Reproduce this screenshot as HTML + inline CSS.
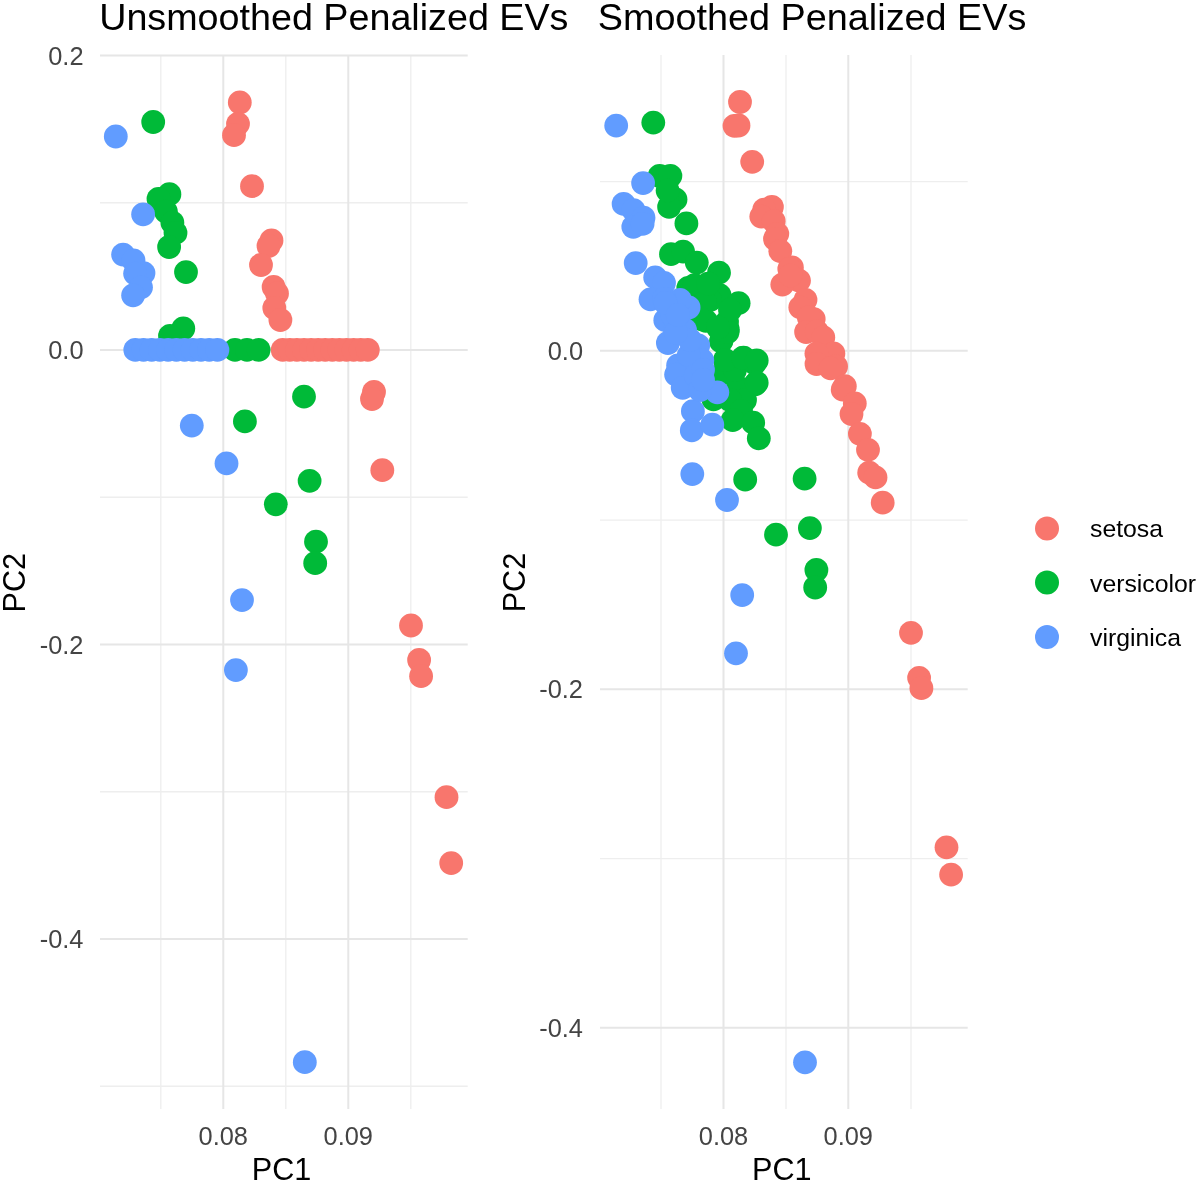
<!DOCTYPE html>
<html><head><meta charset="utf-8"><title>Penalized EVs</title>
<style>
html,body{margin:0;padding:0;background:#fff;}
body{width:1200px;height:1183px;overflow:hidden;font-family:"Liberation Sans",sans-serif;}
svg{display:block;filter:blur(0.45px);}
</style></head><body>
<svg width="1200" height="1183" viewBox="0 0 1200 1183" font-family="Liberation Sans, sans-serif"><rect width="1200" height="1183" fill="#fff"/><line x1="100" y1="202.75" x2="467.7" y2="202.75" stroke="#EEEEEE" stroke-width="1.3"/><line x1="100" y1="497.25" x2="467.7" y2="497.25" stroke="#EEEEEE" stroke-width="1.3"/><line x1="100" y1="791.75" x2="467.7" y2="791.75" stroke="#EEEEEE" stroke-width="1.3"/><line x1="100" y1="1086.25" x2="467.7" y2="1086.25" stroke="#EEEEEE" stroke-width="1.3"/><line x1="160.8" y1="55" x2="160.8" y2="1109" stroke="#EEEEEE" stroke-width="1.3"/><line x1="285.8" y1="55" x2="285.8" y2="1109" stroke="#EEEEEE" stroke-width="1.3"/><line x1="410.8" y1="55" x2="410.8" y2="1109" stroke="#EEEEEE" stroke-width="1.3"/><line x1="100" y1="55.5" x2="467.7" y2="55.5" stroke="#E6E6E6" stroke-width="2"/><line x1="100" y1="350" x2="467.7" y2="350" stroke="#E6E6E6" stroke-width="2"/><line x1="100" y1="644.5" x2="467.7" y2="644.5" stroke="#E6E6E6" stroke-width="2"/><line x1="100" y1="939" x2="467.7" y2="939" stroke="#E6E6E6" stroke-width="2"/><line x1="223.3" y1="55" x2="223.3" y2="1109" stroke="#E6E6E6" stroke-width="2"/><line x1="348.3" y1="55" x2="348.3" y2="1109" stroke="#E6E6E6" stroke-width="2"/><line x1="600" y1="181.6" x2="967.7" y2="181.6" stroke="#EEEEEE" stroke-width="1.3"/><line x1="600" y1="520.1" x2="967.7" y2="520.1" stroke="#EEEEEE" stroke-width="1.3"/><line x1="600" y1="858.6" x2="967.7" y2="858.6" stroke="#EEEEEE" stroke-width="1.3"/><line x1="661" y1="55" x2="661" y2="1109" stroke="#EEEEEE" stroke-width="1.3"/><line x1="786" y1="55" x2="786" y2="1109" stroke="#EEEEEE" stroke-width="1.3"/><line x1="911" y1="55" x2="911" y2="1109" stroke="#EEEEEE" stroke-width="1.3"/><line x1="600" y1="350.8" x2="967.7" y2="350.8" stroke="#E6E6E6" stroke-width="2"/><line x1="600" y1="689.3" x2="967.7" y2="689.3" stroke="#E6E6E6" stroke-width="2"/><line x1="600" y1="1027.8" x2="967.7" y2="1027.8" stroke="#E6E6E6" stroke-width="2"/><line x1="723.5" y1="55" x2="723.5" y2="1109" stroke="#E6E6E6" stroke-width="2"/><line x1="848.3" y1="55" x2="848.3" y2="1109" stroke="#E6E6E6" stroke-width="2"/>
<circle cx="239.8" cy="102.5" r="11.9" fill="#F8766D"/><circle cx="238.0" cy="123.8" r="11.9" fill="#F8766D"/><circle cx="234.0" cy="135.2" r="11.9" fill="#F8766D"/><circle cx="252.0" cy="186.2" r="11.9" fill="#F8766D"/><circle cx="271.5" cy="240.5" r="11.9" fill="#F8766D"/><circle cx="268.5" cy="246.0" r="11.9" fill="#F8766D"/><circle cx="261.0" cy="265.0" r="11.9" fill="#F8766D"/><circle cx="273.6" cy="287.0" r="11.9" fill="#F8766D"/><circle cx="277.0" cy="293.5" r="11.9" fill="#F8766D"/><circle cx="274.3" cy="308.0" r="11.9" fill="#F8766D"/><circle cx="280.4" cy="320.0" r="11.9" fill="#F8766D"/><circle cx="374.0" cy="392.0" r="11.9" fill="#F8766D"/><circle cx="372.0" cy="399.0" r="11.9" fill="#F8766D"/><circle cx="382.3" cy="470.2" r="11.9" fill="#F8766D"/><circle cx="411.0" cy="625.5" r="11.9" fill="#F8766D"/><circle cx="419.1" cy="660.0" r="11.9" fill="#F8766D"/><circle cx="421.1" cy="676.2" r="11.9" fill="#F8766D"/><circle cx="446.5" cy="797.2" r="11.9" fill="#F8766D"/><circle cx="451.2" cy="863.1" r="11.9" fill="#F8766D"/>
<circle cx="282.7" cy="349.9" r="11.9" fill="#F8766D"/><circle cx="289.8" cy="349.9" r="11.9" fill="#F8766D"/><circle cx="296.9" cy="349.9" r="11.9" fill="#F8766D"/><circle cx="304.0" cy="349.9" r="11.9" fill="#F8766D"/><circle cx="311.1" cy="349.9" r="11.9" fill="#F8766D"/><circle cx="318.2" cy="349.9" r="11.9" fill="#F8766D"/><circle cx="325.2" cy="349.9" r="11.9" fill="#F8766D"/><circle cx="332.3" cy="349.9" r="11.9" fill="#F8766D"/><circle cx="339.4" cy="349.9" r="11.9" fill="#F8766D"/><circle cx="346.5" cy="349.9" r="11.9" fill="#F8766D"/><circle cx="353.6" cy="349.9" r="11.9" fill="#F8766D"/><circle cx="360.7" cy="349.9" r="11.9" fill="#F8766D"/><circle cx="367.8" cy="349.9" r="11.9" fill="#F8766D"/>
<circle cx="153.2" cy="122.0" r="11.9" fill="#00BA38"/><circle cx="169.4" cy="194.2" r="11.9" fill="#00BA38"/><circle cx="158.5" cy="199.0" r="11.9" fill="#00BA38"/><circle cx="165.9" cy="211.6" r="11.9" fill="#00BA38"/><circle cx="172.4" cy="222.7" r="11.9" fill="#00BA38"/><circle cx="175.5" cy="232.9" r="11.9" fill="#00BA38"/><circle cx="169.1" cy="247.0" r="11.9" fill="#00BA38"/><circle cx="186.0" cy="272.1" r="11.9" fill="#00BA38"/><circle cx="183.3" cy="328.5" r="11.9" fill="#00BA38"/><circle cx="170.0" cy="336.0" r="11.9" fill="#00BA38"/><circle cx="304.0" cy="396.6" r="11.9" fill="#00BA38"/><circle cx="244.9" cy="421.4" r="11.9" fill="#00BA38"/><circle cx="309.6" cy="480.8" r="11.9" fill="#00BA38"/><circle cx="275.8" cy="504.3" r="11.9" fill="#00BA38"/><circle cx="316.0" cy="541.7" r="11.9" fill="#00BA38"/><circle cx="315.2" cy="563.2" r="11.9" fill="#00BA38"/>
<circle cx="235.0" cy="349.9" r="11.9" fill="#00BA38"/><circle cx="247.0" cy="349.9" r="11.9" fill="#00BA38"/><circle cx="258.6" cy="349.9" r="11.9" fill="#00BA38"/>
<circle cx="115.8" cy="136.5" r="11.9" fill="#619CFF"/><circle cx="143.1" cy="214.3" r="11.9" fill="#619CFF"/><circle cx="123.1" cy="254.6" r="11.9" fill="#619CFF"/><circle cx="133.5" cy="260.4" r="11.9" fill="#619CFF"/><circle cx="143.5" cy="273.1" r="11.9" fill="#619CFF"/><circle cx="135.1" cy="273.6" r="11.9" fill="#619CFF"/><circle cx="141.0" cy="287.3" r="11.9" fill="#619CFF"/><circle cx="133.1" cy="295.3" r="11.9" fill="#619CFF"/><circle cx="191.8" cy="425.6" r="11.9" fill="#619CFF"/><circle cx="226.5" cy="463.4" r="11.9" fill="#619CFF"/><circle cx="242.0" cy="600.1" r="11.9" fill="#619CFF"/><circle cx="235.9" cy="670.1" r="11.9" fill="#619CFF"/><circle cx="304.8" cy="1062.2" r="11.9" fill="#619CFF"/>
<circle cx="135.3" cy="349.9" r="11.9" fill="#619CFF"/><circle cx="143.5" cy="349.9" r="11.9" fill="#619CFF"/><circle cx="151.7" cy="349.9" r="11.9" fill="#619CFF"/><circle cx="159.9" cy="349.9" r="11.9" fill="#619CFF"/><circle cx="168.1" cy="349.9" r="11.9" fill="#619CFF"/><circle cx="176.4" cy="349.9" r="11.9" fill="#619CFF"/><circle cx="184.6" cy="349.9" r="11.9" fill="#619CFF"/><circle cx="192.8" cy="349.9" r="11.9" fill="#619CFF"/><circle cx="201.0" cy="349.9" r="11.9" fill="#619CFF"/><circle cx="209.2" cy="349.9" r="11.9" fill="#619CFF"/><circle cx="217.4" cy="349.9" r="11.9" fill="#619CFF"/>
<circle cx="740.0" cy="102.0" r="11.9" fill="#F8766D"/><circle cx="734.5" cy="125.8" r="11.9" fill="#F8766D"/><circle cx="738.5" cy="125.5" r="11.9" fill="#F8766D"/><circle cx="752.2" cy="161.8" r="11.9" fill="#F8766D"/><circle cx="771.9" cy="207.0" r="11.9" fill="#F8766D"/><circle cx="764.2" cy="209.6" r="11.9" fill="#F8766D"/><circle cx="761.3" cy="216.6" r="11.9" fill="#F8766D"/><circle cx="773.7" cy="221.2" r="11.9" fill="#F8766D"/><circle cx="777.3" cy="233.8" r="11.9" fill="#F8766D"/><circle cx="775.0" cy="239.0" r="11.9" fill="#F8766D"/><circle cx="780.3" cy="251.2" r="11.9" fill="#F8766D"/><circle cx="791.9" cy="267.4" r="11.9" fill="#F8766D"/><circle cx="789.3" cy="269.0" r="11.9" fill="#F8766D"/><circle cx="799.0" cy="280.6" r="11.9" fill="#F8766D"/><circle cx="782.3" cy="284.6" r="11.9" fill="#F8766D"/><circle cx="790.4" cy="275.5" r="11.9" fill="#F8766D"/><circle cx="805.5" cy="299.8" r="11.9" fill="#F8766D"/><circle cx="800.3" cy="307.3" r="11.9" fill="#F8766D"/><circle cx="813.7" cy="319.1" r="11.9" fill="#F8766D"/><circle cx="808.7" cy="317.1" r="11.9" fill="#F8766D"/><circle cx="806.1" cy="332.0" r="11.9" fill="#F8766D"/><circle cx="816.8" cy="331.3" r="11.9" fill="#F8766D"/><circle cx="823.3" cy="337.4" r="11.9" fill="#F8766D"/><circle cx="833.4" cy="353.5" r="11.9" fill="#F8766D"/><circle cx="816.4" cy="353.6" r="11.9" fill="#F8766D"/><circle cx="816.5" cy="364.0" r="11.9" fill="#F8766D"/><circle cx="836.1" cy="366.4" r="11.9" fill="#F8766D"/><circle cx="830.6" cy="368.3" r="11.9" fill="#F8766D"/><circle cx="844.8" cy="386.2" r="11.9" fill="#F8766D"/><circle cx="842.7" cy="389.7" r="11.9" fill="#F8766D"/><circle cx="854.8" cy="403.4" r="11.9" fill="#F8766D"/><circle cx="851.5" cy="414.1" r="11.9" fill="#F8766D"/><circle cx="859.9" cy="433.8" r="11.9" fill="#F8766D"/><circle cx="868.0" cy="449.8" r="11.9" fill="#F8766D"/><circle cx="869.2" cy="472.7" r="11.9" fill="#F8766D"/><circle cx="875.5" cy="477.4" r="11.9" fill="#F8766D"/><circle cx="882.7" cy="502.7" r="11.9" fill="#F8766D"/><circle cx="911.0" cy="632.8" r="11.9" fill="#F8766D"/><circle cx="919.1" cy="677.8" r="11.9" fill="#F8766D"/><circle cx="921.4" cy="688.2" r="11.9" fill="#F8766D"/><circle cx="946.5" cy="847.3" r="11.9" fill="#F8766D"/><circle cx="951.1" cy="874.7" r="11.9" fill="#F8766D"/>
<circle cx="653.3" cy="122.6" r="11.9" fill="#00BA38"/><circle cx="659.6" cy="176.0" r="11.9" fill="#00BA38"/><circle cx="670.4" cy="175.8" r="11.9" fill="#00BA38"/><circle cx="675.5" cy="199.4" r="11.9" fill="#00BA38"/><circle cx="669.1" cy="206.9" r="11.9" fill="#00BA38"/><circle cx="686.4" cy="223.4" r="11.9" fill="#00BA38"/><circle cx="671.0" cy="254.2" r="11.9" fill="#00BA38"/><circle cx="683.1" cy="251.6" r="11.9" fill="#00BA38"/><circle cx="696.8" cy="262.6" r="11.9" fill="#00BA38"/><circle cx="719.0" cy="272.7" r="11.9" fill="#00BA38"/><circle cx="688.3" cy="288.0" r="11.9" fill="#00BA38"/><circle cx="719.5" cy="295.2" r="11.9" fill="#00BA38"/><circle cx="738.6" cy="303.2" r="11.9" fill="#00BA38"/><circle cx="698.7" cy="311.0" r="11.9" fill="#00BA38"/><circle cx="727.0" cy="322.0" r="11.9" fill="#00BA38"/><circle cx="705.8" cy="320.8" r="11.9" fill="#00BA38"/><circle cx="727.8" cy="329.4" r="11.9" fill="#00BA38"/><circle cx="721.0" cy="341.4" r="11.9" fill="#00BA38"/><circle cx="721.7" cy="340.0" r="11.9" fill="#00BA38"/><circle cx="727.6" cy="332.0" r="11.9" fill="#00BA38"/><circle cx="710.0" cy="300.0" r="11.9" fill="#00BA38"/><circle cx="730.0" cy="310.0" r="11.9" fill="#00BA38"/><circle cx="667.6" cy="190.6" r="11.9" fill="#00BA38"/><circle cx="694.7" cy="285.2" r="11.9" fill="#00BA38"/><circle cx="704.8" cy="302.1" r="11.9" fill="#00BA38"/><circle cx="701.0" cy="319.0" r="11.9" fill="#00BA38"/><circle cx="718.0" cy="327.5" r="11.9" fill="#00BA38"/><circle cx="723.5" cy="373.0" r="11.9" fill="#00BA38"/><circle cx="708.2" cy="283.6" r="11.9" fill="#00BA38"/><circle cx="743.5" cy="357.6" r="11.9" fill="#00BA38"/><circle cx="754.7" cy="363.3" r="11.9" fill="#00BA38"/><circle cx="755.2" cy="384.3" r="11.9" fill="#00BA38"/><circle cx="737.5" cy="389.2" r="11.9" fill="#00BA38"/><circle cx="740.0" cy="388.3" r="11.9" fill="#00BA38"/><circle cx="735.0" cy="370.0" r="11.9" fill="#00BA38"/><circle cx="745.0" cy="400.0" r="11.9" fill="#00BA38"/><circle cx="730.0" cy="400.0" r="11.9" fill="#00BA38"/><circle cx="725.0" cy="360.0" r="11.9" fill="#00BA38"/><circle cx="713.5" cy="399.4" r="11.9" fill="#00BA38"/><circle cx="741.0" cy="411.0" r="11.9" fill="#00BA38"/><circle cx="732.7" cy="420.1" r="11.9" fill="#00BA38"/><circle cx="753.2" cy="422.7" r="11.9" fill="#00BA38"/><circle cx="758.8" cy="438.3" r="11.9" fill="#00BA38"/><circle cx="742.9" cy="357.8" r="11.9" fill="#00BA38"/><circle cx="756.7" cy="360.4" r="11.9" fill="#00BA38"/><circle cx="756.7" cy="382.7" r="11.9" fill="#00BA38"/><circle cx="745.2" cy="479.5" r="11.9" fill="#00BA38"/><circle cx="804.6" cy="478.7" r="11.9" fill="#00BA38"/><circle cx="776.0" cy="534.7" r="11.9" fill="#00BA38"/><circle cx="809.9" cy="528.1" r="11.9" fill="#00BA38"/><circle cx="816.4" cy="570.0" r="11.9" fill="#00BA38"/><circle cx="815.2" cy="587.5" r="11.9" fill="#00BA38"/>
<circle cx="616.2" cy="125.6" r="11.9" fill="#619CFF"/><circle cx="643.1" cy="183.1" r="11.9" fill="#619CFF"/><circle cx="623.6" cy="203.9" r="11.9" fill="#619CFF"/><circle cx="633.5" cy="210.1" r="11.9" fill="#619CFF"/><circle cx="643.5" cy="217.7" r="11.9" fill="#619CFF"/><circle cx="633.3" cy="226.8" r="11.9" fill="#619CFF"/><circle cx="642.6" cy="223.8" r="11.9" fill="#619CFF"/><circle cx="635.7" cy="263.1" r="11.9" fill="#619CFF"/><circle cx="655.2" cy="277.4" r="11.9" fill="#619CFF"/><circle cx="664.0" cy="283.0" r="11.9" fill="#619CFF"/><circle cx="650.5" cy="299.3" r="11.9" fill="#619CFF"/><circle cx="688.6" cy="307.5" r="11.9" fill="#619CFF"/><circle cx="665.3" cy="320.2" r="11.9" fill="#619CFF"/><circle cx="667.9" cy="343.0" r="11.9" fill="#619CFF"/><circle cx="698.2" cy="345.5" r="11.9" fill="#619CFF"/><circle cx="702.3" cy="360.4" r="11.9" fill="#619CFF"/><circle cx="678.1" cy="365.5" r="11.9" fill="#619CFF"/><circle cx="676.1" cy="374.6" r="11.9" fill="#619CFF"/><circle cx="682.7" cy="387.8" r="11.9" fill="#619CFF"/><circle cx="717.3" cy="392.3" r="11.9" fill="#619CFF"/><circle cx="692.9" cy="411.2" r="11.9" fill="#619CFF"/><circle cx="691.8" cy="430.4" r="11.9" fill="#619CFF"/><circle cx="712.3" cy="424.7" r="11.9" fill="#619CFF"/><circle cx="688.7" cy="355.4" r="11.9" fill="#619CFF"/><circle cx="695.8" cy="375.6" r="11.9" fill="#619CFF"/><circle cx="680.0" cy="300.0" r="11.9" fill="#619CFF"/><circle cx="675.0" cy="330.0" r="11.9" fill="#619CFF"/><circle cx="685.0" cy="330.0" r="11.9" fill="#619CFF"/><circle cx="690.0" cy="340.0" r="11.9" fill="#619CFF"/><circle cx="700.0" cy="390.0" r="11.9" fill="#619CFF"/><circle cx="703.0" cy="370.0" r="11.9" fill="#619CFF"/><circle cx="703.0" cy="380.0" r="11.9" fill="#619CFF"/><circle cx="664.2" cy="298.8" r="11.9" fill="#619CFF"/><circle cx="672.7" cy="315.7" r="11.9" fill="#619CFF"/><circle cx="676.0" cy="332.5" r="11.9" fill="#619CFF"/><circle cx="665.6" cy="303.0" r="11.9" fill="#619CFF"/><circle cx="677.8" cy="315.2" r="11.9" fill="#619CFF"/><circle cx="692.3" cy="474.1" r="11.9" fill="#619CFF"/><circle cx="727.0" cy="500.0" r="11.9" fill="#619CFF"/><circle cx="742.2" cy="595.1" r="11.9" fill="#619CFF"/><circle cx="736.0" cy="653.3" r="11.9" fill="#619CFF"/><circle cx="805.0" cy="1062.3" r="11.9" fill="#619CFF"/>
<text x="99.2" y="29.5" font-size="37.7" fill="#000">Unsmoothed Penalized EVs</text><text x="597.8" y="29.5" font-size="37.8" fill="#000">Smoothed Penalized EVs</text><text x="83.5" y="64.5" text-anchor="end" fill="#444444" font-size="25.4">0.2</text><text x="83.5" y="359.0" text-anchor="end" fill="#444444" font-size="25.4">0.0</text><text x="83.5" y="653.5" text-anchor="end" fill="#444444" font-size="25.4">-0.2</text><text x="83.5" y="948.0" text-anchor="end" fill="#444444" font-size="25.4">-0.4</text><text x="583" y="359.8" text-anchor="end" fill="#444444" font-size="25.4">0.0</text><text x="583" y="698.3" text-anchor="end" fill="#444444" font-size="25.4">-0.2</text><text x="583" y="1036.8" text-anchor="end" fill="#444444" font-size="25.4">-0.4</text><text x="223.3" y="1144.8" text-anchor="middle" fill="#444444" font-size="25.4">0.08</text><text x="348.3" y="1144.8" text-anchor="middle" fill="#444444" font-size="25.4">0.09</text><text x="723.5" y="1144.8" text-anchor="middle" fill="#444444" font-size="25.4">0.08</text><text x="848.3" y="1144.8" text-anchor="middle" fill="#444444" font-size="25.4">0.09</text><text x="281.5" y="1180" text-anchor="middle" font-size="30.6" fill="#000">PC1</text><text x="781.8" y="1180" text-anchor="middle" font-size="30.6" fill="#000">PC1</text><text transform="translate(24.6,582.7) rotate(-90)" text-anchor="middle" font-size="30.6" fill="#000">PC2</text><text transform="translate(524.6,582.6) rotate(-90)" text-anchor="middle" font-size="30.6" fill="#000">PC2</text><circle cx="1047" cy="528.4" r="12" fill="#F8766D"/><text x="1090" y="537.4" font-size="24.8" fill="#000">setosa</text><circle cx="1047" cy="582.6" r="12" fill="#00BA38"/><text x="1090" y="591.6" font-size="24.8" fill="#000">versicolor</text><circle cx="1047" cy="637" r="12" fill="#619CFF"/><text x="1090" y="646.0" font-size="24.8" fill="#000">virginica</text></svg>
</body></html>
